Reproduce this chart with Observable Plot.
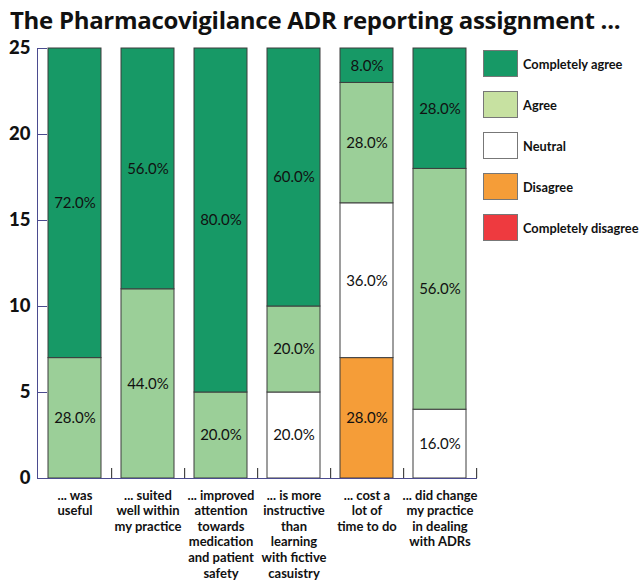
<!DOCTYPE html>
<html><head><meta charset="utf-8">
<script src="https://cdn.jsdelivr.net/npm/d3@7"></script>
<script src="https://cdn.jsdelivr.net/npm/@observablehq/plot@0.6"></script>
<style>
body{margin:0;background:#fff;font-family:Lato,sans-serif}
#wrap{position:relative;width:644px;height:583px;overflow:hidden}
#title{position:absolute;left:10px;top:8px;font:700 24px "Open Sans",sans-serif;line-height:24px;white-space:nowrap;color:#111;letter-spacing:-0.3px}
#legend{position:absolute;left:483px;top:50px}
.row{display:flex;align-items:center;height:27px;margin-bottom:14px}
.sw{width:35px;height:27px;border:1px solid #777;box-sizing:border-box}
.lab{margin-left:5px;font:700 12.8px Lato,sans-serif;color:#111;white-space:nowrap}
#chart{position:absolute;left:0;top:0}
</style></head>
<body><div id="wrap"><div id="chart"></div><div id="title"></div><div id="legend"></div></div>
<script>
const titleText = "The Pharmacovigilance ADR reporting assignment ...";
const categories = ["was useful","suited well within my practice","improved attention towards medication and patient safety","is more instructive than learning with fictive casuistry","cost a lot of time to do","did change my practice in dealing with ADRs"];
const tickLabels = ["... was\nuseful","... suited\nwell within\nmy practice","... improved\nattention\ntowards\nmedication\nand patient\nsafety","... is more\ninstructive\nthan\nlearning\nwith fictive\ncasuistry","... cost a\nlot of\ntime to do","... did change\nmy practice\nin dealing\nwith ADRs"];
const levels = ["Completely disagree","Disagree","Neutral","Agree","Completely agree"];
const legendOrder = ["Completely agree","Agree","Neutral","Disagree","Completely disagree"];
const completelyDisagree = [0,0,0,0,0,0];
const disagree = [0,0,0,0,7,0];
const neutral = [0,0,0,5,9,4];
const agree = [7,11,5,5,7,14];
const completelyAgree = [18,14,20,15,2,7];
const total = 25;
const yTicks = [0,5,10,15,20,25];
const barColors = ["#ee3a3f","#f59d38","#ffffff","#9bcf98","#179966"];
const legendColors = {"Completely agree":"#179966","Agree":"#c7e1a1","Neutral":"#ffffff","Disagree":"#f59d38","Completely disagree":"#ee3a3f"};

const series = [completelyDisagree, disagree, neutral, agree, completelyAgree];
const rows = [];
categories.forEach((c,i)=>levels.forEach((l,j)=>{ if(series[j][i]>0) rows.push({category:c, level:l, count:series[j][i]}); }));

const axisColor = "#4b4b8f";
const W=644,H=583,mL=37,mR=167,mT=48,mB=105;
const step=(W-mL-mR)/categories.length;

const chart = Plot.plot({
  width:W,height:H,marginTop:mT,marginBottom:mB,marginLeft:mL,marginRight:mR,
  style:{fontFamily:"Lato, sans-serif",color:"#111",background:"transparent"},
  x:{domain:categories,paddingInner:0.27,paddingOuter:0.135,axis:null},
  y:{domain:[0,total],axis:null},
  color:{domain:levels,range:barColors},
  marks:[
    Plot.barY(rows,{x:"category",y:"count",fill:"level",stroke:"#3d3d3d",strokeWidth:1,order:levels}),
    Plot.text(rows,Plot.stackY({x:"category",y:"count",z:"level",order:levels,text:d=>d3.format(".1%")(d.count/total),fontSize:15,fill:"#111"})),
    Plot.frame({anchor:"left",stroke:axisColor}),
    Plot.ruleY([0],{stroke:axisColor}),
    Plot.axisY({ticks:yTicks,tickSize:0,tickPadding:7,fontSize:18.5,fontWeight:900,label:null}),
    Plot.axisY({ticks:yTicks,tickSize:-10,text:null,stroke:axisColor,label:null}),
    Plot.axisX({tickSize:-10,text:null,dx:step/2,stroke:"#222",label:null}),
    Plot.axisX({tickSize:0,tickPadding:10,tickFormat:(d)=>tickLabels[categories.indexOf(d)],fontSize:13,fontWeight:700,lineHeight:1.2,label:null})
  ]
});
document.getElementById("chart").appendChild(chart);
document.getElementById("title").textContent = titleText;
const leg = document.getElementById("legend");
legendOrder.forEach(l=>{
  const r=document.createElement("div");r.className="row";
  const s=document.createElement("div");s.className="sw";s.style.background=legendColors[l];
  const t=document.createElement("div");t.className="lab";t.textContent=l;
  r.appendChild(s);r.appendChild(t);leg.appendChild(r);
});
</script></body></html>
